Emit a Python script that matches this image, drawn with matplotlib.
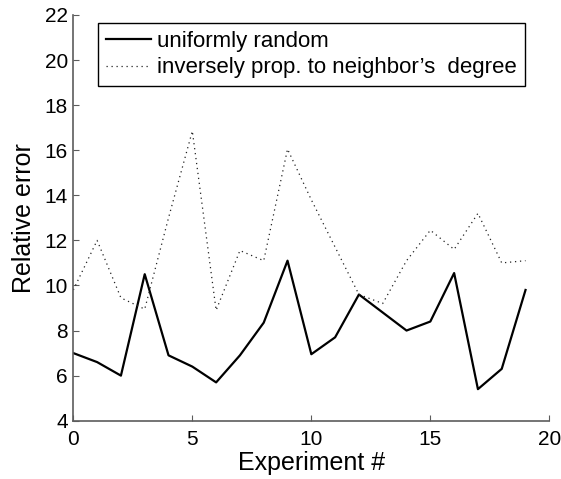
import numpy as np
import matplotlib
matplotlib.use("Agg")
import matplotlib.pyplot as plt

# --- data --------------------------------------------------------------------
experiments = np.arange(20)
uniform = [7.0, 6.6, 6.0, 10.5, 6.9, 6.4, 5.7, 6.9, 8.35, 11.1,
           6.95, 7.7, 9.6, 8.8, 8.0, 8.4, 10.55, 5.4, 6.3, 9.8]
inverse = [9.8, 12.0, 9.45, 8.95, 13.0, 16.85, 8.9, 11.55, 11.1, 16.05,
           13.8, 11.7, 9.6, 9.2, 11.1, 12.45, 11.6, 13.2, 11.0, 11.1]
labels = ["uniformly random", "inversely prop. to neighbor\u2019s  degree"]
xticks = [0, 5, 10, 15, 20]
yticks = [4, 6, 8, 10, 12, 14, 16, 18, 20, 22]

# --- main --------------------------------------------------------------------
plt.rcParams["font.family"] = ["Liberation Sans", "DejaVu Sans"]
axis_gray = "#5c5c5c"

fig = plt.figure(figsize=(5.61, 4.79), dpi=100)
ax = fig.add_axes([0.1307, 0.1217, 0.8485, 0.847])

ax.plot(experiments, uniform, color="black", lw=1.6, label=labels[0])
ax.plot(experiments, inverse, color="#222222", lw=0.9, ls=(0, (1, 3)),
        label=labels[1])

ax.set_xlim(0, 20)
ax.set_ylim(4, 22)
ax.set_xticks(xticks)
ax.set_yticks(yticks)
ax.tick_params(direction="in", length=4, width=0.8, color=axis_gray,
               labelsize=15)
ax.tick_params(axis="x", pad=7)
ax.tick_params(axis="y", pad=4)
for side in ("top", "right"):
    ax.spines[side].set_visible(False)
for side in ("left", "bottom"):
    ax.spines[side].set_color(axis_gray)
    ax.spines[side].set_linewidth(1.2)

ax.set_xlabel("Experiment #", fontsize=18, labelpad=1)
ax.set_ylabel("Relative error", fontsize=18, labelpad=6)

leg = ax.legend(loc="upper left", bbox_to_anchor=(0.0525, 0.98),
                borderaxespad=0, fontsize=16, fancybox=False, framealpha=1,
                edgecolor="black", handlelength=2.0, handletextpad=0.3,
                labelspacing=0.25, borderpad=0.35)
leg.get_frame().set_linewidth(1.0)

fig.savefig("out.png", dpi=100)
